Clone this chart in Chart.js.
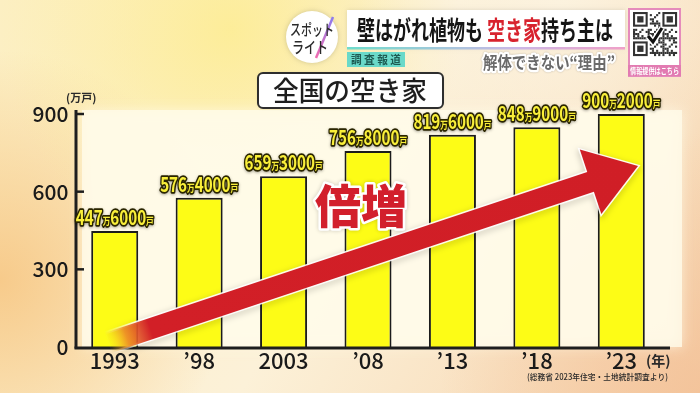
<!DOCTYPE html>
<html><head><meta charset="utf-8">
<script src="https://cdn.jsdelivr.net/npm/chart.js@4.4.1/dist/chart.umd.min.js"></script>
<style>html,body{margin:0;padding:0;overflow:hidden;background:#fbe9c6}canvas{display:block}</style>
</head><body><canvas id="c" width="700" height="393"></canvas>
<script>
// ---- data ----
const years = ['1993', '’98', '2003', '’08', '’13', '’18', '’23'];
const vacantHomesMan = [447.6, 576.4, 659.3, 756.8, 819.6, 848.9, 900.2]; // 万戸
const yTickValues = [0, 300, 600, 900];
// ---- texts ----
const titleText = '全国の空き家';
const unitText = '(万戸)';
const yearUnit = '(年)';
const sourceText = '(総務省 2023年住宅・土地統計調査より)';
const headlineParts = [['壁はがれ植物も ', '#151515'], ['空き家', '#d8232e'], ['持ち主は', '#151515']];
const subHeadline = '解体できない“理由”';
const tagText = '調査報道';
const growthText = '倍増';
const logoLines = ['スポット', 'ライト'];
const qrCaption = '情報提供はこちら';
const JP = "'Noto Sans CJK JP', 'Noto Sans CJK SC', sans-serif";

function fitText(ctx, text, x, y, maxW, align) {
  const w = ctx.measureText(text).width;
  const s = Math.min(1, maxW / w);
  ctx.save();
  let ox = x;
  if (align === 'center') ox = x - w * s / 2;
  else if (align === 'right') ox = x - w * s;
  ctx.translate(ox, y);
  ctx.scale(s, 1);
  ctx.textAlign = 'left';
  return {w, s};
}

function drawBackground(ctx) {
  let g = ctx.createLinearGradient(0, 0, 700, 393);
  g.addColorStop(0, '#fcefc2');
  g.addColorStop(0.5, '#fcf1d8');
  g.addColorStop(1, '#f6d3ae');
  ctx.fillStyle = g; ctx.fillRect(0, 0, 700, 393);
  const glow = (x, y, r, c0, c1) => {
    const rg = ctx.createRadialGradient(x, y, 0, x, y, r);
    rg.addColorStop(0, c0); rg.addColorStop(1, c1);
    ctx.fillStyle = rg; ctx.fillRect(0, 0, 700, 393);
  };
  glow(0, 280, 230, 'rgba(246,196,128,0.85)', 'rgba(246,196,128,0)');
  glow(230, 30, 230, 'rgba(253,236,140,0.8)', 'rgba(253,236,140,0)');
  glow(700, 393, 260, 'rgba(243,192,150,0.8)', 'rgba(243,192,150,0)');
  glow(560, 0, 200, 'rgba(252,244,226,0.8)', 'rgba(252,244,226,0)');
  // plot panel
  ctx.save();
  ctx.shadowColor = 'rgba(255,250,230,0.9)'; ctx.shadowBlur = 12;
  ctx.fillStyle = 'rgba(255,251,234,0.8)';
  ctx.fillRect(82, 110, 600, 237);
  ctx.restore();
}

function drawHeader(ctx) {
  // logo circle
  ctx.save();
  ctx.shadowColor = 'rgba(0,0,0,0.18)'; ctx.shadowBlur = 5;
  ctx.fillStyle = '#ffffff';
  ctx.beginPath(); ctx.arc(312, 37, 26, 0, Math.PI * 2); ctx.fill();
  ctx.restore();
  ctx.save();
  const lg = ctx.createLinearGradient(318, 58, 332, 16);
  lg.addColorStop(0, '#f06bb0'); lg.addColorStop(1, '#8a7cf0');
  ctx.strokeStyle = lg; ctx.lineWidth = 2.5;
  ctx.beginPath(); ctx.moveTo(316, 58); ctx.lineTo(333, 17); ctx.stroke();
  ctx.restore();
  ctx.save(); ctx.fillStyle = '#2a2a2a'; ctx.font = `500 15px ${JP}`; ctx.textBaseline = 'middle';
  fitText(ctx, logoLines[0], 312, 29, 44, 'center'); ctx.fillText(logoLines[0], 0, 0); ctx.restore();
  ctx.save(); ctx.fillStyle = '#2a2a2a'; ctx.font = `500 16px ${JP}`; ctx.textBaseline = 'middle';
  fitText(ctx, logoLines[1], 310, 47, 36, 'center'); ctx.fillText(logoLines[1], 0, 0); ctx.restore();

  // headline banner
  ctx.save();
  ctx.shadowColor = 'rgba(0,0,0,0.12)'; ctx.shadowBlur = 4;
  ctx.fillStyle = '#ffffff';
  ctx.fillRect(347, 10, 278, 38);
  ctx.restore();
  const ug = ctx.createLinearGradient(347, 0, 625, 0);
  ug.addColorStop(0, '#6fdccc'); ug.addColorStop(0.6, '#c9b8e6'); ug.addColorStop(1, '#f0a0c8');
  ctx.fillStyle = ug; ctx.fillRect(347, 47, 278, 2.5);
  // headline text
  ctx.save();
  ctx.font = `bold 26px ${JP}`;
  ctx.textBaseline = 'middle';
  let total = 0;
  headlineParts.forEach(p => total += ctx.measureText(p[0]).width);
  const s = 256 / total;
  ctx.translate(357, 30); ctx.scale(s, 1);
  let cx = 0;
  headlineParts.forEach(p => { ctx.fillStyle = p[1]; ctx.fillText(p[0], cx, 0); cx += ctx.measureText(p[0]).width; });
  ctx.restore();

  // tag
  ctx.fillStyle = '#6ad9c9';
  ctx.fillRect(347, 52, 58, 15);
  ctx.save();
  ctx.font = `bold 11px ${JP}`; ctx.fillStyle = '#1d5a52'; ctx.textBaseline = 'middle';
  fitText(ctx, tagText.split('').join(' '), 376, 60, 50, 'center');
  ctx.fillText(tagText.split('').join(' '), 0, 0);
  ctx.restore();

  // sub headline
  ctx.save();
  ctx.font = `bold 17px ${JP}`; ctx.textBaseline = 'middle';
  fitText(ctx, subHeadline, 615, 63, 132, 'right');
  ctx.lineJoin = 'round';
  ctx.shadowColor = 'rgba(0,0,0,0.25)'; ctx.shadowBlur = 2;
  ctx.strokeStyle = '#ffffff'; ctx.lineWidth = 4.5; ctx.strokeText(subHeadline, 0, 0);
  ctx.shadowColor = 'transparent';
  ctx.fillStyle = '#6a6a6a'; ctx.fillText(subHeadline, 0, 0);
  ctx.restore();

  // QR block
  ctx.fillStyle = '#ffffff'; ctx.fillRect(628, 8, 53, 58);
  ctx.strokeStyle = '#e58bbb'; ctx.lineWidth = 2; ctx.strokeRect(629, 9, 51, 67);
  ctx.fillStyle = '#e27bb2'; ctx.fillRect(628, 65, 53, 11);
  ctx.save();
  ctx.font = `bold 8px ${JP}`; ctx.fillStyle = '#ffffff'; ctx.textBaseline = 'middle';
  fitText(ctx, qrCaption, 654.5, 71, 49, 'center'); ctx.fillText(qrCaption, 0, 0);
  ctx.restore();
  const qx = 633, qy = 12, m = 2.1, n = 21;
  ctx.fillStyle = '#333';
  for (let i = 0; i < n; i++) for (let j = 0; j < n; j++) {
    const inFinder = (i < 8 && j < 8) || (i < 8 && j > n - 9) || (i > n - 9 && j < 8);
    if (inFinder) continue;
    if (((i * 7 + j * 13 + i * j * 3) % 7) < 3) ctx.fillRect(qx + j * m, qy + i * m, m, m);
  }
  const finder = (fx, fy) => {
    ctx.fillStyle = '#333'; ctx.fillRect(fx, fy, 7 * m, 7 * m);
    ctx.fillStyle = '#fff'; ctx.fillRect(fx + m, fy + m, 5 * m, 5 * m);
    ctx.fillStyle = '#333'; ctx.fillRect(fx + 2 * m, fy + 2 * m, 3 * m, 3 * m);
  };
  finder(qx, qy); finder(qx + (n - 7) * m, qy); finder(qx, qy + (n - 7) * m);
  ctx.save();
  ctx.strokeStyle = '#fff'; ctx.lineWidth = 6;
  ctx.beginPath(); ctx.moveTo(648, 36); ctx.lineTo(653, 42); ctx.lineTo(662, 28); ctx.stroke();
  ctx.strokeStyle = '#111'; ctx.lineWidth = 3;
  ctx.beginPath(); ctx.moveTo(648, 36); ctx.lineTo(653, 42); ctx.lineTo(662, 28); ctx.stroke();
  ctx.restore();

  // title box
  ctx.save();
  ctx.shadowColor = 'rgba(0,0,0,0.15)'; ctx.shadowBlur = 3;
  ctx.fillStyle = '#ffffff'; ctx.strokeStyle = '#2e2e2e'; ctx.lineWidth = 2;
  ctx.beginPath(); ctx.roundRect(258, 73, 185, 35, 5); ctx.fill();
  ctx.shadowBlur = 0; ctx.stroke();
  ctx.restore();
  ctx.save();
  ctx.font = `500 27px ${JP}`; ctx.fillStyle = '#1e1e1e'; ctx.textBaseline = 'middle';
  fitText(ctx, titleText, 350, 91, 154, 'center'); ctx.fillText(titleText, 0, 0);
  ctx.restore();
}

function drawBarLabel(ctx, x, baseline, v) {
  const tot = Math.round(v * 10000);
  const man = String(Math.floor(tot / 10000));
  const rest = String(tot % 10000).padStart(4, '0');
  const parts = [[man, 20], ['万', 10], [rest, 20], ['戸', 10]];
  let W = 0;
  parts.forEach(p => { ctx.font = `bold ${p[1]}px ${JP}`; p.push(ctx.measureText(p[0]).width); W += p[2]; });
  const s = 78 / W;
  ctx.save();
  ctx.translate(x - 39, baseline);
  ctx.scale(s, 1);
  ctx.textBaseline = 'alphabetic';
  ctx.lineJoin = 'round';
  for (let pass = 0; pass < 2; pass++) {
    let cx = 0;
    parts.forEach(p => {
      ctx.font = `bold ${p[1]}px ${JP}`;
      if (pass === 0) {
        ctx.shadowColor = 'rgba(0,0,0,0.35)'; ctx.shadowBlur = 3; ctx.shadowOffsetY = 1;
        ctx.strokeStyle = '#2a2500'; ctx.lineWidth = 3.5; ctx.strokeText(p[0], cx, 0);
      } else {
        ctx.shadowColor = 'transparent';
        ctx.fillStyle = '#f9ef3a'; ctx.fillText(p[0], cx, 0);
      }
      cx += p[2];
    });
  }
  ctx.restore();
}

function drawArrow(ctx) {
  const S = {x: 108, y: 343}, T = {x: 638, y: 166};
  const dx = T.x - S.x, dy = T.y - S.y, L = Math.hypot(dx, dy);
  const u = {x: dx / L, y: dy / L}, n = {x: -u.y, y: u.x};
  const w = 10.5, hw = 34, hl = 50;
  const B = {x: T.x - hl * u.x, y: T.y - hl * u.y};
  const P = (p, k) => [p.x + k * n.x, p.y + k * n.y];
  const pts = [P(S, -w), P(B, -w), P(B, -hw), [T.x, T.y], P(B, hw), P(B, w), P(S, w)];
  ctx.save();
  ctx.beginPath();
  pts.forEach((p, i) => i ? ctx.lineTo(p[0], p[1]) : ctx.moveTo(p[0], p[1]));
  ctx.closePath();
  ctx.shadowColor = 'rgba(0,0,0,0.3)'; ctx.shadowBlur = 6; ctx.shadowOffsetY = 2;
  const sg = ctx.createLinearGradient(S.x, S.y, T.x, T.y);
  sg.addColorStop(0, 'rgba(255,255,255,0)'); sg.addColorStop(0.06, 'rgba(255,255,255,0.9)'); sg.addColorStop(1, 'rgba(255,255,255,0.9)');
  ctx.strokeStyle = sg; ctx.lineWidth = 3; ctx.lineJoin = 'miter';
  ctx.stroke();
  ctx.shadowColor = 'transparent';
  const g = ctx.createLinearGradient(S.x, S.y, T.x, T.y);
  g.addColorStop(0, 'rgba(246,200,40,0)');
  g.addColorStop(0.035, 'rgba(236,130,40,0.85)');
  g.addColorStop(0.08, '#d21f27');
  g.addColorStop(1, '#d01e26');
  ctx.fillStyle = g;
  ctx.fill();
  ctx.restore();
}

function drawGrowthText(ctx) {
  ctx.save();
  ctx.font = `900 46px ${JP}`;
  ctx.textAlign = 'center'; ctx.textBaseline = 'middle';
  ctx.lineJoin = 'round';
  ctx.shadowColor = 'rgba(0,0,0,0.2)'; ctx.shadowBlur = 4;
  ctx.strokeStyle = '#ffffff'; ctx.lineWidth = 5;
  ctx.strokeText(growthText, 361, 206);
  ctx.shadowColor = 'transparent';
  ctx.fillStyle = '#d21f2c';
  ctx.fillText(growthText, 361, 206);
  ctx.restore();
}

const bgPlugin = {
  id: 'bg',
  beforeDraw(chart) {
    const ctx = chart.ctx;
    drawBackground(ctx);
    drawHeader(ctx);
    ctx.save();
    ctx.fillStyle = '#2a2a2a';
    ctx.font = `bold 11px ${JP}`; ctx.textBaseline = 'middle'; ctx.textAlign = 'left';
    ctx.fillText(unitText, 66, 98);
    ctx.font = `bold 14px ${JP}`;
    ctx.fillText(yearUnit, 646, 361);
    ctx.font = `500 8.5px ${JP}`;
    fitText(ctx, sourceText, 668, 377, 141, 'right'); ctx.fillText(sourceText, 0, 0);
    ctx.restore();
    ctx.restore();
  }
};

const fgPlugin = {
  id: 'fg',
  afterDatasetsDraw(chart) {
    const ctx = chart.ctx;
    const ys = chart.scales.y;
    ctx.save();
    ctx.strokeStyle = '#1e1e1e';
    ctx.lineWidth = 3;
    ctx.beginPath(); ctx.moveTo(76, 110); ctx.lineTo(76, 348.5); ctx.stroke();
    ctx.beginPath(); ctx.moveTo(74.5, 348); ctx.lineTo(670, 348); ctx.stroke();
    ctx.lineWidth = 2.5;
    yTickValues.filter(v => v > 0).forEach(v => {
      const y = ys.getPixelForValue(v);
      ctx.beginPath(); ctx.moveTo(76, y); ctx.lineTo(84, y); ctx.stroke();
    });
    ctx.restore();
    drawArrow(ctx);
    drawGrowthText(ctx);
    const meta = chart.getDatasetMeta(0);
    meta.data.forEach((bar, i) => {
      drawBarLabel(ctx, bar.x, bar.y - 6, vacantHomesMan[i]);
    });
  }
};

new Chart(document.getElementById('c').getContext('2d'), {
  type: 'bar',
  data: {
    labels: years,
    datasets: [{
      data: vacantHomesMan,
      backgroundColor: '#fdfc16',
      borderColor: '#1c1c1c',
      borderWidth: 2,
      borderSkipped: 'bottom',
      barPercentage: 0.557,
      categoryPercentage: 1
    }]
  },
  options: {
    responsive: false,
    animation: false,
    devicePixelRatio: 1,
    layout: {padding: {top: 114, right: 36.5, bottom: 0, left: 0}},
    plugins: {legend: {display: false}, tooltip: {enabled: false}, title: {display: false}},
    scales: {
      x: {
        grid: {display: false, drawTicks: false},
        border: {display: false},
        ticks: {color: '#1a1a1a', font: {family: JP, size: 22, weight: '500'}, padding: 0, maxRotation: 0, autoSkip: false},
        afterFit(s) { s.height = 46; }
      },
      y: {
        min: 0, max: 900,
        grid: {display: false, drawTicks: false},
        border: {display: false},
        afterBuildTicks(s) { s.ticks = yTickValues.map(v => ({value: v})); },
        ticks: {color: '#1a1a1a', font: {family: JP, size: 21, weight: '500'}, padding: 4},
        afterFit(s) { s.width = 72.5; }
      }
    }
  },
  plugins: [bgPlugin, fgPlugin]
});
</script>
</body></html>
